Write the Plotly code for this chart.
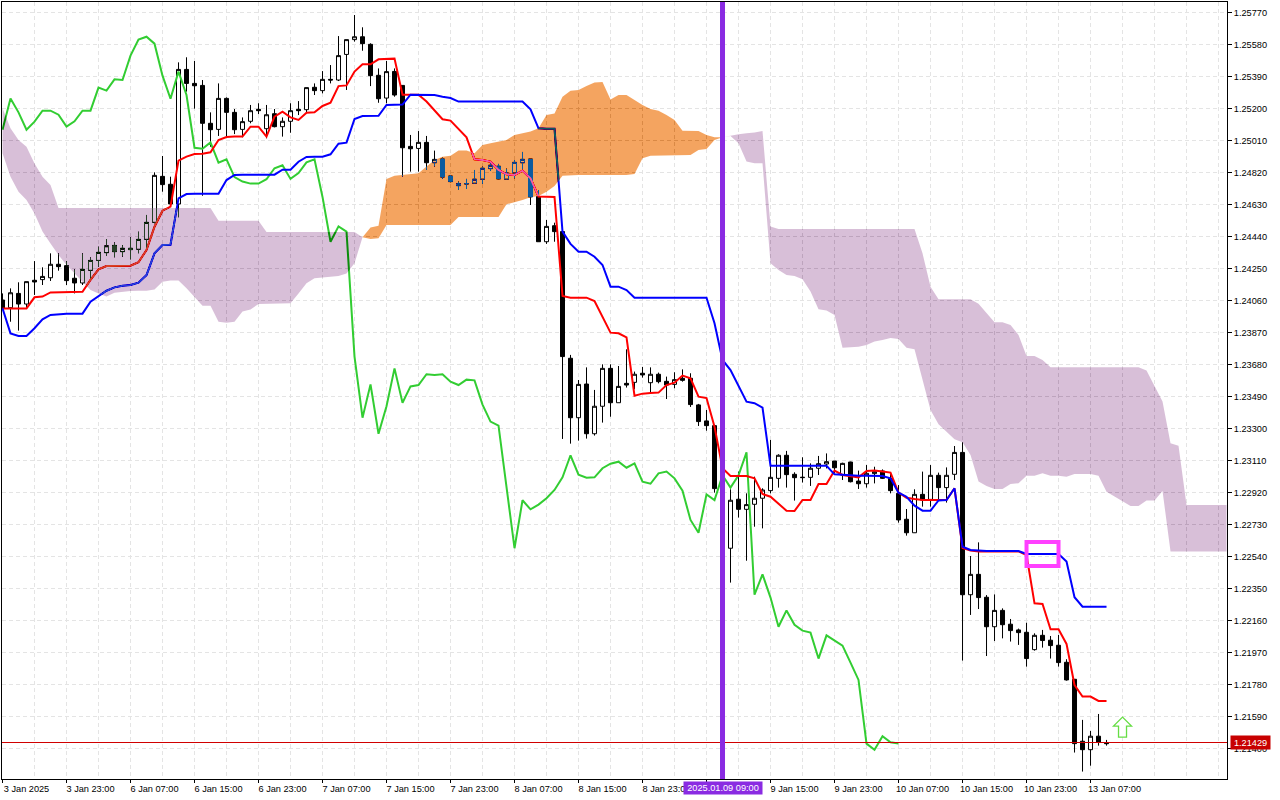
import plotly.graph_objects as go

# EURUSD-style H1 bars
open_prices = [
    1.24063, 1.24017, 1.24102, 1.24039, 1.24180, 1.24184, 1.24195, 1.24275, 1.24267, 1.24192,
    1.24164, 1.24239, 1.24298, 1.24344, 1.24387, 1.24350, 1.24370, 1.24364, 1.24423, 1.24524,
    1.24797, 1.24750, 1.24633, 1.25432, 1.25349, 1.25337, 1.25112, 1.25076, 1.25260, 1.25177,
    1.25076, 1.25124, 1.25195, 1.25080, 1.25169, 1.25092, 1.25124, 1.25195, 1.25193, 1.25326,
    1.25306, 1.25373, 1.25369, 1.25521, 1.25609, 1.25626, 1.25581, 1.25397, 1.25262, 1.25420,
    1.25337, 1.24975, 1.24963, 1.24999, 1.24878, 1.24900, 1.24799, 1.24742, 1.24752, 1.24756,
    1.24780, 1.24843, 1.24857, 1.24780, 1.24817, 1.24878, 1.24900, 1.24677, 1.24409, 1.24504,
    1.24469, 1.23717, 1.23364, 1.23564, 1.23269, 1.23432, 1.23657, 1.23453, 1.23568, 1.23574,
    1.23628, 1.23572, 1.23622, 1.23580, 1.23562, 1.23598, 1.23598, 1.23440, 1.23345, 1.23317,
    1.22943, 1.22589, 1.22880, 1.22820, 1.22850, 1.22886, 1.22931, 1.23004, 1.23141, 1.23028,
    1.23008, 1.23010, 1.23064, 1.23089, 1.23107, 1.23024, 1.23101, 1.22988, 1.22972, 1.23032,
    1.23048, 1.23004, 1.22915, 1.22761, 1.22681, 1.22909, 1.22879, 1.23022, 1.22949, 1.23028,
    1.23158, 1.22313, 1.22434, 1.22298, 1.22123, 1.22220, 1.22138, 1.22104, 1.22090, 1.21987,
    1.22072, 1.22043, 1.22013, 1.21912, 1.21811, 1.21443, 1.21393, 1.21473, 1.21431,
]
high_prices = [
    1.24102, 1.24132, 1.24168, 1.24172, 1.24294, 1.24257, 1.24340, 1.24340, 1.24294, 1.24245,
    1.24340, 1.24316, 1.24380, 1.24425, 1.24405, 1.24389, 1.24435, 1.24469, 1.24568, 1.24821,
    1.24918, 1.24795, 1.25474, 1.25504, 1.25482, 1.25369, 1.25177, 1.25349, 1.25266, 1.25197,
    1.25147, 1.25221, 1.25231, 1.25221, 1.25197, 1.25147, 1.25231, 1.25244, 1.25324, 1.25349,
    1.25422, 1.25458, 1.25630, 1.25609, 1.25755, 1.25682, 1.25587, 1.25438, 1.25482, 1.25438,
    1.25337, 1.25043, 1.25066, 1.25037, 1.24950, 1.24908, 1.24805, 1.24766, 1.24782, 1.24835,
    1.24855, 1.24875, 1.24871, 1.24843, 1.24894, 1.24942, 1.24900, 1.24716, 1.24538, 1.24522,
    1.24469, 1.23737, 1.23588, 1.23663, 1.23529, 1.23681, 1.23681, 1.23671, 1.23770, 1.23638,
    1.23665, 1.23663, 1.23632, 1.23608, 1.23634, 1.23651, 1.23628, 1.23446, 1.23410, 1.23321,
    1.22960, 1.22939, 1.23044, 1.22915, 1.23014, 1.22945, 1.23232, 1.23147, 1.23167, 1.23040,
    1.23129, 1.23093, 1.23137, 1.23152, 1.23107, 1.23097, 1.23103, 1.23050, 1.23083, 1.23073,
    1.23057, 1.23034, 1.22964, 1.22822, 1.22939, 1.23044, 1.23083, 1.23038, 1.23069, 1.23196,
    1.23218, 1.22543, 1.22624, 1.22311, 1.22315, 1.22232, 1.22169, 1.22112, 1.22147, 1.22084,
    1.22104, 1.22068, 1.22074, 1.21930, 1.21811, 1.21570, 1.21504, 1.21605, 1.21451,
]
low_prices = [
    1.24004, 1.23934, 1.23881, 1.24013, 1.24093, 1.24152, 1.24176, 1.24237, 1.24152, 1.24102,
    1.24152, 1.24186, 1.24261, 1.24324, 1.24316, 1.24320, 1.24304, 1.24340, 1.24370, 1.24518,
    1.24706, 1.24617, 1.24554, 1.25300, 1.25199, 1.24682, 1.24973, 1.25037, 1.25033, 1.25048,
    1.25029, 1.25112, 1.25167, 1.25023, 1.25088, 1.25033, 1.25056, 1.25161, 1.25171, 1.25280,
    1.25290, 1.25349, 1.25363, 1.25310, 1.25597, 1.25543, 1.25333, 1.25234, 1.25231, 1.25270,
    1.24795, 1.24825, 1.24825, 1.24835, 1.24855, 1.24782, 1.24762, 1.24716, 1.24722, 1.24752,
    1.24752, 1.24829, 1.24780, 1.24776, 1.24785, 1.24839, 1.24627, 1.24409, 1.24396, 1.24409,
    1.23238, 1.23210, 1.23228, 1.23240, 1.23258, 1.23335, 1.23370, 1.23453, 1.23543, 1.23533,
    1.23602, 1.23513, 1.23568, 1.23475, 1.23539, 1.23578, 1.23428, 1.23315, 1.23287, 1.22919,
    1.22560, 1.22385, 1.22771, 1.22515, 1.22717, 1.22707, 1.22915, 1.22949, 1.22949, 1.22872,
    1.22979, 1.22959, 1.23024, 1.23063, 1.23034, 1.22994, 1.22980, 1.22941, 1.22949, 1.22974,
    1.23000, 1.22915, 1.22741, 1.22664, 1.22681, 1.22836, 1.22836, 1.22879, 1.22860, 1.22994,
    1.21922, 1.22193, 1.22228, 1.21949, 1.22038, 1.22054, 1.22035, 1.22015, 1.21886, 1.21981,
    1.21999, 1.21934, 1.21886, 1.21803, 1.21376, 1.21263, 1.21298, 1.21417, 1.21417,
]
close_prices = [
    1.24013, 1.24106, 1.24039, 1.24172, 1.24170, 1.24203, 1.24275, 1.24261, 1.24178, 1.24164,
    1.24245, 1.24298, 1.24346, 1.24385, 1.24350, 1.24370, 1.24362, 1.24423, 1.24524, 1.24803,
    1.24748, 1.24633, 1.25432, 1.25349, 1.25335, 1.25112, 1.25074, 1.25260, 1.25177, 1.25074,
    1.25122, 1.25187, 1.25187, 1.25163, 1.25092, 1.25124, 1.25187, 1.25187, 1.25324, 1.25306,
    1.25373, 1.25369, 1.25514, 1.25609, 1.25626, 1.25585, 1.25395, 1.25258, 1.25419, 1.25280,
    1.24967, 1.24961, 1.24999, 1.24878, 1.24898, 1.24793, 1.24766, 1.24754, 1.24754, 1.24780,
    1.24845, 1.24863, 1.24782, 1.24817, 1.24880, 1.24898, 1.24675, 1.24409, 1.24500, 1.24469,
    1.23727, 1.23364, 1.23562, 1.23269, 1.23432, 1.23657, 1.23453, 1.23550, 1.23558, 1.23622,
    1.23618, 1.23622, 1.23578, 1.23558, 1.23590, 1.23586, 1.23442, 1.23341, 1.23317, 1.22943,
    1.22589, 1.22874, 1.22820, 1.22848, 1.22886, 1.22935, 1.23010, 1.23141, 1.23026, 1.23008,
    1.23010, 1.23064, 1.23091, 1.23103, 1.23067, 1.23093, 1.22984, 1.22972, 1.23034, 1.23044,
    1.23004, 1.22931, 1.22757, 1.22681, 1.22909, 1.22875, 1.23022, 1.22949, 1.23022, 1.23158,
    1.22313, 1.22434, 1.22296, 1.22123, 1.22220, 1.22135, 1.22100, 1.22088, 1.21934, 1.22072,
    1.22041, 1.22011, 1.21910, 1.21807, 1.21429, 1.21393, 1.21473, 1.21437, 1.21429,
]

# Ichimoku lines
tenkan = [
    1.24013, 1.24013, 1.24013, 1.24013, 1.24079, 1.24083, 1.24108, 1.24110, 1.24110, 1.24110,
    1.24112, 1.24182, 1.24245, 1.24265, 1.24265, 1.24265, 1.24267, 1.24287, 1.24360, 1.24498,
    1.24593, 1.24617, 1.24890, 1.24914, 1.24930, 1.24932, 1.24940, 1.25013, 1.25031, 1.25033,
    1.25033, 1.25092, 1.25092, 1.25033, 1.25151, 1.25181, 1.25147, 1.25132, 1.25175, 1.25177,
    1.25215, 1.25234, 1.25333, 1.25337, 1.25419, 1.25462, 1.25462, 1.25492, 1.25496, 1.25496,
    1.25282, 1.25282, 1.25282, 1.25241, 1.25191, 1.25136, 1.25128, 1.25076, 1.25029, 1.24898,
    1.24894, 1.24884, 1.24835, 1.24809, 1.24805, 1.24831, 1.24785, 1.24677, 1.24677, 1.24675,
    1.24087, 1.24077, 1.24077, 1.24077, 1.24057, 1.23964, 1.23869, 1.23865, 1.23841, 1.23495,
    1.23507, 1.23511, 1.23513, 1.23558, 1.23572, 1.23614, 1.23598, 1.23489, 1.23481, 1.23311,
    1.23064, 1.23018, 1.23018, 1.23018, 1.23004, 1.22911, 1.22895, 1.22856, 1.22812, 1.22810,
    1.22876, 1.22876, 1.22970, 1.22970, 1.23050, 1.23024, 1.23018, 1.23010, 1.23048, 1.23050,
    1.23044, 1.23038, 1.22919, 1.22889, 1.22881, 1.22875, 1.22875, 1.22875, 1.22875, 1.22945,
    1.22590, 1.22575, 1.22570, 1.22570, 1.22570, 1.22570, 1.22570, 1.22570, 1.22549, 1.22262,
    1.22258, 1.22108, 1.22108, 1.22021, 1.21777, 1.21708, 1.21708, 1.21682, 1.21682,
]
kijun = [
    1.24013, 1.23865, 1.23849, 1.23849, 1.23895, 1.23948, 1.23974, 1.23980, 1.23982, 1.23982,
    1.23982, 1.24053, 1.24083, 1.24118, 1.24138, 1.24148, 1.24152, 1.24166, 1.24211, 1.24340,
    1.24389, 1.24391, 1.24666, 1.24692, 1.24694, 1.24694, 1.24694, 1.24694, 1.24775, 1.24805,
    1.24807, 1.24807, 1.24807, 1.24807, 1.24807, 1.24837, 1.24837, 1.24884, 1.24912, 1.24914,
    1.24914, 1.24928, 1.24991, 1.24997, 1.25138, 1.25155, 1.25157, 1.25157, 1.25221, 1.25221,
    1.25223, 1.25282, 1.25282, 1.25282, 1.25280, 1.25270, 1.25262, 1.25241, 1.25241, 1.25241,
    1.25241, 1.25241, 1.25241, 1.25241, 1.25241, 1.25241, 1.25195, 1.25082, 1.25080, 1.25080,
    1.24469, 1.24396, 1.24350, 1.24350, 1.24320, 1.24271, 1.24142, 1.24142, 1.24122, 1.24077,
    1.24077, 1.24077, 1.24077, 1.24077, 1.24077, 1.24077, 1.24077, 1.24077, 1.24077, 1.23925,
    1.23707, 1.23647, 1.23554, 1.23459, 1.23450, 1.23424, 1.23079, 1.23079, 1.23079, 1.23079,
    1.23079, 1.23079, 1.23079, 1.23079, 1.23028, 1.23024, 1.23020, 1.23020, 1.23020, 1.23020,
    1.23018, 1.23004, 1.22919, 1.22895, 1.22842, 1.22812, 1.22812, 1.22873, 1.22875, 1.22945,
    1.22598, 1.22579, 1.22575, 1.22573, 1.22573, 1.22573, 1.22573, 1.22573, 1.22555, 1.22555,
    1.22555, 1.22555, 1.22555, 1.22510, 1.22298, 1.22242, 1.22242, 1.22242, 1.22242,
]
chikou = [
    1.25074, 1.25260, 1.25177, 1.25074, 1.25122, 1.25187, 1.25187, 1.25163, 1.25092, 1.25124,
    1.25187, 1.25187, 1.25324, 1.25306, 1.25373, 1.25369, 1.25514, 1.25609, 1.25626, 1.25585,
    1.25395, 1.25258, 1.25419, 1.25280, 1.24967, 1.24961, 1.24999, 1.24878, 1.24898, 1.24793,
    1.24766, 1.24754, 1.24754, 1.24780, 1.24845, 1.24863, 1.24782, 1.24817, 1.24880, 1.24898,
    1.24675, 1.24409, 1.24500, 1.24469, 1.23727, 1.23364, 1.23562, 1.23269, 1.23432, 1.23657,
    1.23453, 1.23550, 1.23558, 1.23622, 1.23618, 1.23622, 1.23578, 1.23558, 1.23590, 1.23586,
    1.23442, 1.23341, 1.23317, 1.22943, 1.22589, 1.22874, 1.22820, 1.22848, 1.22886, 1.22935,
    1.23010, 1.23141, 1.23026, 1.23008, 1.23010, 1.23064, 1.23091, 1.23103, 1.23067, 1.23093,
    1.22984, 1.22972, 1.23034, 1.23044, 1.23004, 1.22931, 1.22757, 1.22681, 1.22909, 1.22875,
    1.23022, 1.22949, 1.23022, 1.23158, 1.22313, 1.22434, 1.22296, 1.22123, 1.22220, 1.22135,
    1.22100, 1.22088, 1.21934, 1.22072, 1.22041, 1.22011, 1.21910, 1.21807, 1.21429, 1.21393,
    1.21473, 1.21437, 1.21429,
]
senkou_a = [
    1.24934, 1.24795, 1.24706, 1.24657, 1.24577, 1.24469, 1.24399, 1.24330, 1.24271, 1.24221,
    1.24172, 1.24122, 1.24102, 1.24083, 1.24106, 1.24112, 1.24116, 1.24118, 1.24118, 1.24126,
    1.24172, 1.24178, 1.24178, 1.24132, 1.24083, 1.24029, 1.24029, 1.23934, 1.23928, 1.23934,
    1.23994, 1.24007, 1.24039, 1.24039, 1.24039, 1.24039, 1.24043, 1.24102, 1.24162, 1.24192,
    1.24197, 1.24201, 1.24205, 1.24221, 1.24281, 1.24435, 1.24493, 1.24504, 1.24782, 1.24801,
    1.24807, 1.24811, 1.24815, 1.24855, 1.24894, 1.24914, 1.24920, 1.24950, 1.24950, 1.24934,
    1.24983, 1.24993, 1.25003, 1.25013, 1.25043, 1.25053, 1.25063, 1.25082, 1.25161, 1.25171,
    1.25270, 1.25306, 1.25310, 1.25334, 1.25355, 1.25357, 1.25254, 1.25280, 1.25280, 1.25251,
    1.25221, 1.25197, 1.25187, 1.25161, 1.25132, 1.25068, 1.25066, 1.25066, 1.25043, 1.25029,
    1.25029, 1.25037, 1.24993, 1.24885, 1.24875, 1.24875, 1.24281, 1.24241, 1.24212, 1.24206,
    1.24186, 1.24113, 1.24008, 1.24000, 1.23974, 1.23780, 1.23782, 1.23786, 1.23796, 1.23816,
    1.23826, 1.23838, 1.23832, 1.23780, 1.23770, 1.23588, 1.23410, 1.23325, 1.23282, 1.23236,
    1.23218, 1.23143, 1.22985, 1.22959, 1.22941, 1.22941, 1.22971, 1.22975, 1.23020, 1.23020,
    1.23034, 1.23020, 1.23020, 1.23014, 1.23030, 1.23030, 1.23030, 1.23020, 1.22925, 1.22896,
    1.22866, 1.22840, 1.22840, 1.22872, 1.22872, 1.22929, 1.22569, 1.22569, 1.22569, 1.22569,
    1.22569, 1.22569, 1.22569, 1.22569,
]
senkou_b = [
    1.25201, 1.25082, 1.25013, 1.24973, 1.24874, 1.24795, 1.24746, 1.24609, 1.24609, 1.24609,
    1.24609, 1.24609, 1.24609, 1.24609, 1.24609, 1.24609, 1.24609, 1.24609, 1.24609, 1.24609,
    1.24609, 1.24609, 1.24609, 1.24609, 1.24609, 1.24609, 1.24609, 1.24534, 1.24534, 1.24534,
    1.24534, 1.24534, 1.24534, 1.24467, 1.24467, 1.24467, 1.24467, 1.24467, 1.24467, 1.24467,
    1.24467, 1.24467, 1.24467, 1.24467, 1.24467, 1.24435, 1.24425, 1.24429, 1.24508, 1.24508,
    1.24508, 1.24508, 1.24508, 1.24508, 1.24508, 1.24508, 1.24508, 1.24556, 1.24556, 1.24556,
    1.24556, 1.24556, 1.24556, 1.24631, 1.24643, 1.24657, 1.24673, 1.24681, 1.24706, 1.24740,
    1.24801, 1.24805, 1.24805, 1.24805, 1.24805, 1.24805, 1.24805, 1.24805, 1.24805, 1.24811,
    1.24904, 1.24920, 1.24920, 1.24920, 1.24920, 1.24920, 1.24924, 1.24954, 1.24960, 1.25013,
    1.25029, 1.25039, 1.25047, 1.25053, 1.25057, 1.25067, 1.24499, 1.24485, 1.24485, 1.24485,
    1.24485, 1.24485, 1.24485, 1.24485, 1.24485, 1.24485, 1.24485, 1.24485, 1.24485, 1.24485,
    1.24485, 1.24485, 1.24485, 1.24485, 1.24485, 1.24340, 1.24142, 1.24067, 1.24067, 1.24067,
    1.24067, 1.24067, 1.24040, 1.23984, 1.23931, 1.23931, 1.23915, 1.23855, 1.23731, 1.23731,
    1.23707, 1.23664, 1.23664, 1.23664, 1.23664, 1.23664, 1.23664, 1.23664, 1.23664, 1.23664,
    1.23664, 1.23664, 1.23664, 1.23644, 1.23549, 1.23460, 1.23212, 1.23198, 1.22846, 1.22846,
    1.22846, 1.22846, 1.22846, 1.22846,
]

y_tick_labels = [
    "1.25770", "1.25580", "1.25390", "1.25200", "1.25010", "1.24820", "1.24630", "1.24440",
    "1.24250", "1.24060", "1.23870", "1.23680", "1.23490", "1.23300", "1.23110", "1.22920",
    "1.22730", "1.22540", "1.22350", "1.22160", "1.21970", "1.21780", "1.21590", "1.21400",
]
x_tick_labels = [
    "3 Jan 2025", "3 Jan 23:00", "6 Jan 07:00", "6 Jan 15:00", "6 Jan 23:00", "7 Jan 07:00",
    "7 Jan 15:00", "7 Jan 23:00", "8 Jan 07:00", "8 Jan 15:00", "8 Jan 23:00", "9 Jan 07:00",
    "9 Jan 15:00", "9 Jan 23:00", "10 Jan 07:00", "10 Jan 15:00", "10 Jan 23:00", "13 Jan 07:00",
]

last_price = "1.21429"
last_price_level = 1.214356  # where the terminal snapped the line, on a whole pixel
marked_bar = 90
signal_bar = 140

FONT = "Liberation Sans"
FONT_SIZE = 9.2
GRID = "#e4e4e4"
PURPLE = "#8a2be2"

bars = list(range(len(close_prices)))
fig = go.Figure()

fig.add_trace(go.Candlestick(
    x=bars, open=open_prices, high=high_prices, low=low_prices, close=close_prices,
    increasing=dict(line=dict(color="black", width=1), fillcolor="white"),
    decreasing=dict(line=dict(color="black", width=1), fillcolor="black"),
    whiskerwidth=0, hoverinfo="skip",
))

for values, color in [(chikou, "#32cd32"), (tenkan, "#ff0000"), (kijun, "#0000ff")]:
    fig.add_trace(go.Scatter(
        x=bars[:len(values)], y=values, mode="lines",
        line=dict(color=color, width=2), hoverinfo="skip",
    ))

# Cloud goes last. Fill colours are the inverse of what shows on white, see blend below
span_bars = list(range(len(senkou_a)))
for start, stop, fill in [(0, 46, "#274027"), (45, 91, "#0b5b9f"), (90, 154, "#274027")]:
    fig.add_trace(go.Scatter(
        x=span_bars[start:stop], y=senkou_a[start:stop], mode="lines",
        line=dict(width=0), hoverinfo="skip",
    ))
    fig.add_trace(go.Scatter(
        x=span_bars[start:stop], y=senkou_b[start:stop], mode="lines",
        line=dict(width=0), fill="tonexty", fillcolor=fill, hoverinfo="skip",
    ))

fig.add_hline(y=last_price_level, line=dict(color="#d00000", width=1))
fig.add_vline(x=marked_bar, line=dict(color=PURPLE, width=5))

# Highlight box around the kijun
fig.add_shape(type="rect", x0=128, x1=132, y0=1.22484, y1=1.22626,
              line=dict(color="#ff40ff", width=4))

# Buy arrow, sized in pixels
fig.add_shape(type="path", xref="x", yref="y", xsizemode="pixel", ysizemode="pixel",
              xanchor=signal_bar, yanchor=1.21468,
              path="M -4 0 L 4 0 L 4 11 L 9 11 L 0 20 L -9 11 L -4 11 Z",
              fillcolor="white", line=dict(color="#66dd44", width=1.3))

fig.add_annotation(x=1.0025, xref="paper", xanchor="left", y=last_price_level, yref="y",
                   text=last_price, showarrow=False, bgcolor="#c80000", width=37, height=11,
                   font=dict(family=FONT, size=FONT_SIZE, color="white"), borderpad=1)
fig.add_annotation(x=marked_bar, xref="x", y=-0.0118, yref="paper", yanchor="middle",
                   text="2025.01.09 09:00", showarrow=False, bgcolor=PURPLE, width=76, height=10,
                   font=dict(family=FONT, size=FONT_SIZE, color="white"), borderpad=1)

fig.update_layout(
    width=1280, height=800,
    margin=dict(l=2, r=53, t=2, b=21, pad=0),
    paper_bgcolor="white", plot_bgcolor="white",
    showlegend=False, boxgap=0.5, boxgroupgap=0,
    font=dict(family=FONT, size=FONT_SIZE, color="black"),
    xaxis=dict(
        range=[-0.0625, 153.06], rangeslider=dict(visible=False),
        tickmode="array",
        tickvals=[i * 8 for i in range(len(x_tick_labels))], ticktext=x_tick_labels,
        tickangle=0, ticks="outside", ticklen=3, tickcolor="black",
        ticklabelshift=24, ticklabelstandoff=-2,
        showgrid=True, gridcolor=GRID, griddash="4px,3px", gridwidth=1,
        minor=dict(tickvals=list(range(0, 154, 4)), showgrid=True, gridcolor=GRID,
                   griddash="4px,3px", gridwidth=1, ticks=""),
        showline=True, mirror=True, linecolor="black", linewidth=1, zeroline=False,
    ),
    yaxis=dict(
        range=[1.212189, 1.258323], side="right",
        tickmode="array",
        tickvals=[float(t) for t in y_tick_labels], ticktext=y_tick_labels,
        ticks="outside", ticklen=4, tickcolor="black",
        showgrid=True, gridcolor=GRID, griddash="4px,3px", gridwidth=1,
        showline=True, mirror=True, linecolor="black", linewidth=1, zeroline=False,
    ),
)

# MT5 paints the cloud in XOR style, so whatever is under it flips colour.
# A blend only sees its own clipped plot group, so a white backing and the grid
# (shifted back by the margins) are moved inside that group.
blend = """
document.body.style.margin = '0';
var SVG_NS = 'http://www.w3.org/2000/svg';
var plot = document.querySelector('.scatterlayer').parentNode;
var grids = document.createElementNS(SVG_NS, 'g');
grids.setAttribute('transform', 'translate(-2,-2)');
plot.closest('.subplot').querySelectorAll('.minor-gridlayer, .gridlayer').forEach(function (g) {
    grids.appendChild(g);
});
plot.insertBefore(grids, plot.firstChild);
var backing = document.createElementNS(SVG_NS, 'rect');
backing.setAttribute('width', 2000);
backing.setAttribute('height', 2000);
backing.setAttribute('fill', 'white');
plot.insertBefore(backing, plot.firstChild);
plot.querySelectorAll('.scatterlayer .fills path').forEach(function (p) {
    p.style.mixBlendMode = 'difference';
});
"""
fig.write_html("out.html", post_script=blend, config={"displayModeBar": False})
